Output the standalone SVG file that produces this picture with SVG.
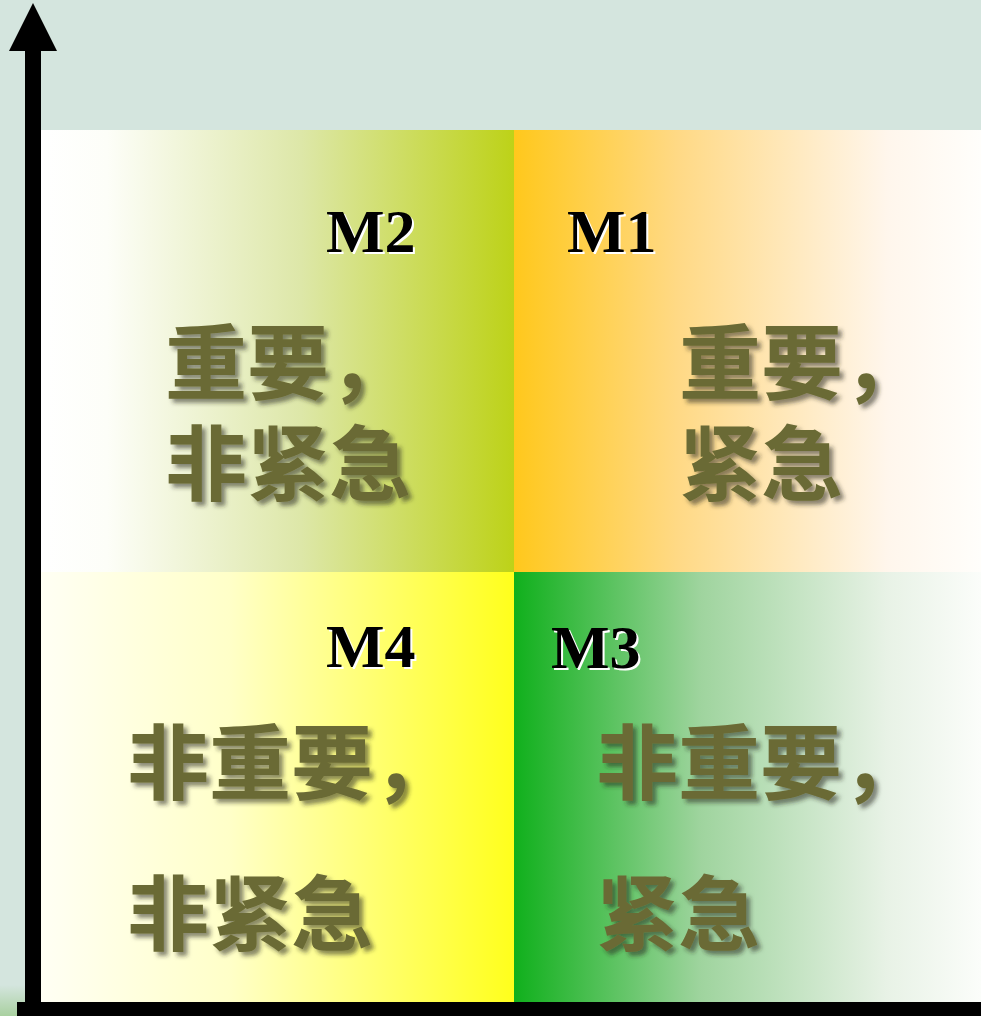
<svg xmlns="http://www.w3.org/2000/svg" width="981" height="1016" viewBox="0 0 981 1016">
<defs>
<linearGradient id="gM2" x1="0" y1="0" x2="1" y2="0">
<stop offset="0" stop-color="#ffffff"/><stop offset="0.14" stop-color="#fdfef8"/><stop offset="0.55" stop-color="#dde7a8"/><stop offset="1" stop-color="#bdd218"/>
</linearGradient>
<linearGradient id="gM1" x1="0" y1="0" x2="1" y2="0">
<stop offset="0" stop-color="#ffc81c"/><stop offset="0.35" stop-color="#ffd985"/><stop offset="0.8" stop-color="#fff6ec"/><stop offset="1" stop-color="#fffefb"/>
</linearGradient>
<linearGradient id="gM4" x1="0" y1="0" x2="1" y2="0">
<stop offset="0" stop-color="#fffff4"/><stop offset="0.4" stop-color="#ffffc8"/><stop offset="1" stop-color="#ffff1c"/>
</linearGradient>
<linearGradient id="gM3" x1="0" y1="0" x2="1" y2="0">
<stop offset="0" stop-color="#10b01c"/><stop offset="0.4" stop-color="#9fd49e"/><stop offset="0.8" stop-color="#e8f2e6"/><stop offset="1" stop-color="#fbfdfa"/>
</linearGradient>
<linearGradient id="gCorner" x1="0" y1="0" x2="0" y2="1">
<stop offset="0" stop-color="#d4e5de"/><stop offset="1" stop-color="#a9d0a0"/>
</linearGradient>
<filter id="shadow" x="-10%" y="-10%" width="130%" height="130%">
<feDropShadow dx="4" dy="4" stdDeviation="2" flood-color="#2a2a20" flood-opacity="0.55"/>
</filter>
</defs>
<style>
.cn{font-family:"Noto Sans CJK SC","Noto Sans CJK TC",sans-serif;font-weight:700;font-size:82px;fill:#6b6b35;filter:url(#shadow)}
.m{font-family:"Liberation Serif","Times New Roman",serif;font-weight:700;font-size:62px;fill:#000}
.mw{font-family:"Liberation Serif","Times New Roman",serif;font-weight:700;font-size:62px;fill:#fff}
</style>
<rect x="0" y="0" width="981" height="1016" fill="#d4e5de"/>
<rect x="0" y="985" width="25" height="31" fill="url(#gCorner)"/>
<g id="M2">
<rect x="41" y="130" width="473" height="442" fill="url(#gM2)"/>
<text class="mw" x="328" y="254">M2</text><text class="m" x="326" y="252">M2</text>
<text class="cn" x="165" y="393">重要，</text>
<text class="cn" x="165" y="494">非紧急</text>
</g>
<g id="M1">
<rect x="514" y="130" width="467" height="442" fill="url(#gM1)"/>
<text class="mw" x="569" y="254">M1</text><text class="m" x="567" y="252">M1</text>
<text class="cn" x="679" y="393">重要，</text>
<text class="cn" x="679" y="494">紧急</text>
</g>
<g id="M4">
<rect x="41" y="572" width="473" height="430" fill="url(#gM4)"/>
<text class="mw" x="328" y="669">M4</text><text class="m" x="326" y="667">M4</text>
<text class="cn" x="127" y="793">非重要，</text>
<text class="cn" x="127" y="944">非紧急</text>
</g>
<g id="M3">
<rect x="514" y="572" width="467" height="430" fill="url(#gM3)"/>
<text class="mw" x="553" y="670">M3</text><text class="m" x="551" y="668">M3</text>
<text class="cn" x="596" y="793">非重要，</text>
<text class="cn" x="596" y="944">紧急</text>
</g>
<g id="axes">
<rect x="25" y="48" width="16" height="968" fill="#000"/>
<rect x="17" y="1002" width="964" height="14" fill="#000"/>
<polygon points="33,3 57,51 9,51" fill="#000"/>
</g>
</svg>
